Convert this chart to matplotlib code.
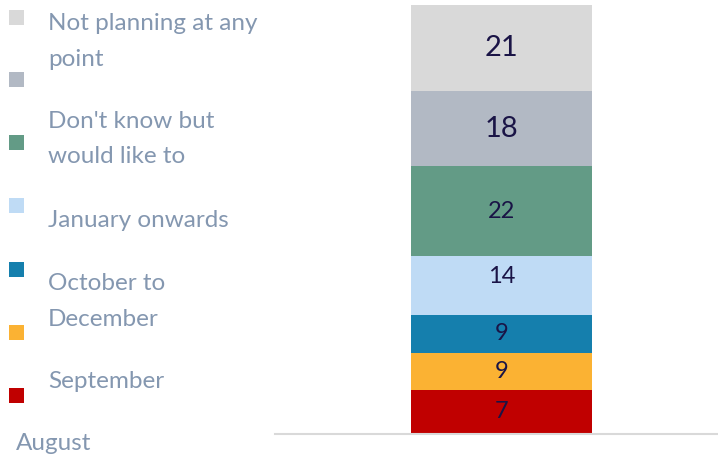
import matplotlib
matplotlib.use("Agg")
import matplotlib.pyplot as plt
from matplotlib.patches import Rectangle

# Data (bottom to top of the stacked bar)
segment_heights = [10.3, 8.6, 8.9, 13.6, 21.0, 17.5, 20.1]   # bar lengths as drawn
segment_labels = ["7", "9", "9", "14", "22", "18", "21"]      # printed data labels
segment_colors = ["#c00000", "#fbb233", "#157fad", "#bfdbf5", "#639b86", "#b2b9c4", "#d9d9d9"]
label_sizes = [17, 17, 17, 17, 17, 21, 21]
label_shift_px = [0, 0, 0, 9, 0, 0, 0]

# Legend (as drawn, top to bottom)
legend_colors = ["#d9d9d9", "#b2b9c4", "#639b86", "#bfdbf5", "#157fad", "#fbb233", "#c00000"]
legend_texts = ["Not planning at any\npoint", "Don't know but\nwould like to", "January onwards",
                "October to\nDecember", "September", "August"]

W, H = 718, 457
fig = plt.figure(figsize=(W / 100, H / 100), dpi=100)
plt.rcParams['font.family'] = ['Lato', 'DejaVu Sans']

ax = fig.add_axes([275 / W, 1 - 434 / H, (W - 275) / W, (434 - 5) / H])
total = sum(segment_heights)
px_per_unit = (434 - 5) / total
bottom = 0
for h, lab, c, fs, sh in zip(segment_heights, segment_labels, segment_colors, label_sizes, label_shift_px):
    ax.bar(0.5113, h, width=0.4086, bottom=bottom, color=c, linewidth=0)
    ax.text(0.5113, bottom + h / 2 + sh / px_per_unit, lab, ha='center', va='center',
            fontsize=fs, color='#1a1446')
    bottom += h
ax.set_xlim(0, 1)
ax.set_ylim(0, total)
for s in ['top', 'right', 'left']:
    ax.spines[s].set_visible(False)
ax.spines['bottom'].set_color('#d9d9d9')
ax.spines['bottom'].set_linewidth(1.5)
ax.set_xticks([])
ax.set_yticks([])

# Legend squares
sq_y = [10, 72, 135, 198, 262, 325, 388]
for c, y in zip(legend_colors, sq_y):
    fig.patches.append(Rectangle((9 / W, 1 - (y + 15) / H), 15 / W, 15 / H,
                                 transform=fig.transFigure, color=c, linewidth=0))

# Legend texts
text_y = [24, 122, 220, 284, 382, 444]
text_x = [48, 48, 48, 48, 48, 16]
for t, x, y in zip(legend_texts, text_x, text_y):
    for i, line in enumerate(t.split("\n")):
        fig.text(x / W, 1 - (y + i * 35) / H, line, ha='left', va='center',
                 fontsize=17.5, color='#8497b0')

fig.savefig("out.png", dpi=100)
